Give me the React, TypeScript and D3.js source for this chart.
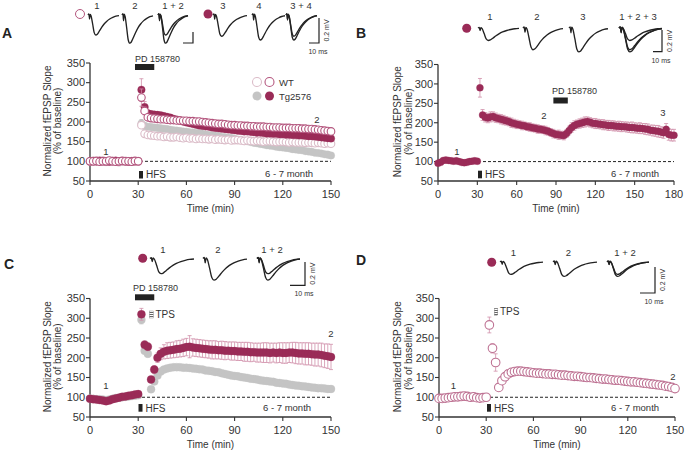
import React from 'react';
import * as d3 from 'd3';

const FONT = "'Liberation Sans', Arial, Helvetica, sans-serif";
const INK = '#333';
const MAROON = '#9a2b57';
const PINK_ERR = '#d08fa9';
const GRAY = '#c4c4c4';
const GRAY_ERR = '#b3b3b3';
const OPEN_DARK = '#b4567e';
const OPEN_LIGHT = '#dbbcc8';
const OPEN_D = '#be7293';

// ---------------- data ----------------
const yTicks = [50, 100, 150, 200, 250, 300, 350];
const xTicks150 = [0, 30, 60, 90, 120, 150];
const xTicks180 = [0, 30, 60, 90, 120, 150, 180];
const times150 = d3.range(0, 151, 2);
const times180 = d3.range(0, 181, 2);

// Panel A
const wtA = [100, 101, 99, 100, 102, 100, 99, 101, 100, 98, 100, 101, 100, 99, 100, 100,
  192, 170, 167, 166, 165, 164, 164, 162, 163, 161,
  161, 162, 160, 159, 160, 158, 159, 157, 158, 157,
  157, 156, 157, 155, 156, 155, 154, 155, 153, 154,
  154, 153, 152, 153, 152, 151, 152, 151, 150, 151,
  151, 150, 149, 150, 150, 149, 148, 149, 148, 148,
  148, 147, 148, 147, 146, 147, 146, 145, 146, 145];
const wtPdA = [100, 100, 101, 99, 100, 100, 102, 100, 99, 100, 101, 100, 100, 99, 101, 100,
  262, 228, 212, 210, 209, 208, 207, 207, 206, 205,
  205, 204, 204, 203, 203, 202, 202, 201, 201, 200,
  199, 198, 197, 196, 195, 195, 194, 193, 192, 192,
  191, 191, 190, 190, 189, 189, 188, 188, 188, 187,
  187, 186, 186, 186, 185, 185, 185, 184, 184, 184,
  183, 183, 182, 182, 181, 180, 179, 178, 177, 176];
const tgA = [100, 99, 100, 101, 100, 98, 100, 101, 100, 99, 100, 100, 101, 99, 100, 100,
  196, 190, 188, 187, 186, 185, 184, 183, 182, 180,
  179, 178, 177, 176, 175, 174, 173, 172, 171, 170,
  168, 167, 166, 165, 164, 162, 161, 160, 159, 157,
  155, 154, 152, 151, 149, 147, 146, 144, 143, 141,
  140, 139, 137, 136, 135, 134, 133, 131, 130, 129,
  128, 126, 125, 124, 122, 121, 120, 118, 117, 115];
const tgPdA = [100, 101, 100, 102, 101, 100, 99, 101, 102, 100, 101, 100, 99, 101, 100, 101,
  282, 238, 222, 220, 219, 218, 217, 215, 213, 211,
  208, 206, 203, 201, 199, 197, 195, 193, 191, 190,
  189, 188, 186, 185, 184, 183, 182, 181, 180, 179,
  178, 177, 176, 176, 175, 174, 173, 173, 172, 171,
  171, 170, 170, 169, 169, 168, 168, 167, 167, 166,
  166, 165, 164, 164, 163, 162, 161, 160, 159, 158];
const errTgPdA: [number, number][] = [[32, 28], [34, 14], [36, 8]];
const errWtPdA: [number, number][] = [[32, 22], [34, 10], [36, 6]];
const errTgA: [number, number][] = [[32, 10], [34, 8]];

// Panel B
const tgPdB = [96, 98, 103, 104, 103, 102, 101, 102, 100, 98, 97, 98, 100, 101, 102, 101,
  290, 220, 214, 212, 215, 216, 213, 211, 209, 207,
  205, 203, 200, 198, 196, 195, 193, 192, 190, 189,
  187, 186, 184, 183, 182, 180, 178, 175, 172, 170,
  169, 168, 167, 172, 180, 188, 193, 196, 198, 200,
  202, 203, 201, 199, 198, 197, 196, 195, 194, 193,
  193, 192, 191, 191, 190, 190, 189, 188, 188, 187,
  186, 186, 185, 184, 183, 181, 180, 179, 178, 176,
  174, 183, 170, 168, 168];
const errTgPdB = [3, 3, 4, 3, 3, 3, 4, 3, 3, 3, 3, 3, 4, 3, 3, 3,
  24, 14, 12, 12, 13, 12, 12, 11, 12, 12,
  11, 11, 12, 11, 11, 10, 11, 10, 10, 11,
  10, 10, 11, 10, 10, 11, 10, 10, 11, 10,
  12, 10, 11, 10, 11, 12, 12, 11, 12, 12,
  13, 12, 12, 12, 13, 12, 12, 13, 12, 13,
  12, 13, 12, 13, 13, 12, 13, 13, 14, 13,
  13, 14, 13, 14, 14, 13, 14, 14, 15, 14,
  14, 15, 15, 15, 15];

// Panel C
const tgC = [97, 96, 95, 95, 94, 93, 94, 96, 98, 99, 100, 101, 102, 103, 104, 105,
  296, 218, 210, 120, 140, 155, 165, 170, 173, 175,
  176, 176, 176, 175, 175, 174, 173, 172, 171, 170,
  168, 167, 166, 164, 163, 161, 159, 157, 155, 154,
  153, 151, 150, 149, 147, 146, 145, 143, 142, 141,
  140, 139, 137, 136, 135, 134, 132, 131, 130, 129,
  128, 127, 126, 125, 124, 123, 123, 122, 121, 121];
const tgPdC = [96, 95, 94, 93, 92, 90, 92, 95, 97, 99, 101, 102, 104, 105, 107, 108,
  310, 233, 228, 145, 170, 200, 210, 215, 218, 219,
  220, 222, 223, 225, 227, 228, 226, 225, 224, 223,
  222, 221, 220, 220, 219, 219, 218, 218, 217, 217,
  216, 216, 215, 215, 214, 214, 213, 213, 213, 213,
  212, 213, 212, 213, 212, 212, 213, 213, 212, 211,
  211, 210, 210, 209, 208, 208, 207, 205, 204, 202];
const errTgPdC = [4, 4, 4, 5, 5, 5, 4, 4, 4, 4, 4, 4, 4, 4, 4, 4,
  15, 10, 10, 8, 10, 12, 15, 18, 20, 20,
  20, 21, 21, 22, 22, 28, 22, 22, 22, 22,
  22, 22, 23, 23, 22, 23, 23, 22, 23, 23,
  23, 23, 24, 24, 24, 23, 24, 24, 25, 25,
  25, 24, 25, 25, 26, 26, 25, 26, 27, 27,
  27, 28, 28, 28, 29, 29, 30, 30, 31, 32];
const errTgC: [number, number][] = [[32, 10], [34, 8], [36, 8]];

// Panel D
const wtD = [97, 97, 98, 99, 100, 101, 101, 102, 103, 102, 100, 101, 99, 98, 99, 100,
  283, 224, 188, 125, 142, 152, 159, 163, 165, 166,
  166, 165, 164, 163, 162, 161, 161, 160, 159, 159,
  158, 158, 157, 156, 156, 155, 154, 153, 153, 152,
  151, 150, 150, 149, 148, 147, 146, 146, 145, 144,
  143, 143, 142, 141, 140, 139, 139, 138, 137, 136,
  135, 134, 133, 132, 131, 130, 128, 127, 125, 122];
const errWtD: [number, number][] = [[32, 20], [34, 12], [36, 22], [44, 6], [46, 8], [48, 8], [50, 8], [52, 7]];

// Example traces: peak amplitudes (mV)
const traceAmpA = [0.16, 0.225, 0.17, 0.2];
const traceAmpB = [0.115, 0.2, 0.22];
const traceAmpC = [0.13, 0.185];
const traceAmpD = [0.095, 0.11];
// normalized fEPSP waveform (time fraction, fraction of peak)
const waveform: [number, number][] = [
  [0, 0], [0.03, 0.05], [0.05, -0.2], [0.07, 0.03], [0.1, -0.05], [0.15, -0.45], [0.2, -0.88],
  [0.25, -1], [0.3, -0.96], [0.36, -0.82], [0.44, -0.62], [0.52, -0.45], [0.6, -0.32],
  [0.7, -0.2], [0.8, -0.12], [0.9, -0.06], [1, -0.03]];

// ---------------- helpers ----------------
const lineGen = d3.line<[number, number]>().curve(d3.curveMonotoneX);

function Trace({ x0, y0, w, amps, mv }: { x0: number; y0: number; w: number; amps: number[]; mv: d3.ScaleLinear<number, number> }) {
  return (
    <g>
      {amps.map((a, i) => (
        <path key={i} d={lineGen(waveform.map(([u, v]) => [x0 + u * w, y0 - v * mv(a)])) || ''}
          fill="none" stroke="#222" strokeWidth={1.35} />
      ))}
    </g>
  );
}

function ScaleBar({ x, yTop, yBot, xLeft, labels }: { x: number; yTop: number; yBot: number; xLeft: number; labels: boolean }) {
  return (
    <g>
      <path d={`M${x},${yTop}V${yBot}H${xLeft}`} fill="none" stroke="#222" strokeWidth={1.2} />
      {labels && (
        <>
          <text transform={`translate(${x + 10},${(yTop + yBot) / 2}) rotate(-90)`} textAnchor="middle" fontSize={7} fill={INK}>0.2 mV</text>
          <text x={x - 1} y={yBot + 11} textAnchor="middle" fontSize={7} fill={INK}>10 ms</text>
        </>
      )}
    </g>
  );
}

type Sc = d3.ScaleLinear<number, number>;

function Series({ times, values, x, y, color, open, r, err, errColor, sw }: {
  times: number[]; values: number[]; x: Sc; y: Sc; color: string; open: boolean; r: number;
  err?: number[]; errColor?: string; sw?: number;
}) {
  return (
    <g>
      {err && values.map((v, i) => err[i] > 0 ? (
        <g key={'e' + i} stroke={errColor} strokeWidth={0.8}>
          <line x1={x(times[i])} x2={x(times[i])} y1={y(v - err[i])} y2={y(v + err[i])} />
          <line x1={x(times[i]) - 2} x2={x(times[i]) + 2} y1={y(v + err[i])} y2={y(v + err[i])} />
          <line x1={x(times[i]) - 2} x2={x(times[i]) + 2} y1={y(v - err[i])} y2={y(v - err[i])} />
        </g>
      ) : null)}
      {values.map((v, i) => (
        <circle key={i} cx={x(times[i])} cy={y(v)} r={r} fill={open ? '#fff' : color}
          stroke={color} strokeWidth={open ? (sw ?? 1.1) : 0.3} />
      ))}
    </g>
  );
}

function sparseErr(times: number[], pts: [number, number][]) {
  const m = new Map(pts);
  return times.map((t) => m.get(t) ?? 0);
}

function Axes({ x, y, xTicks, t1, t2 }: { x: Sc; y: Sc; xTicks: number[]; t1: number; t2: number }) {
  const [x0, x1] = x.range();
  const yb = y(50);
  const yt = y(350);
  const cy = (yb + yt) / 2 - 1;
  return (
    <g>
      <line x1={x0} x2={x0} y1={yt} y2={yb} stroke={INK} strokeWidth={1.3} />
      {yTicks.map((v) => (
        <g key={v}>
          <line x1={x0 - 4} x2={x0} y1={y(v)} y2={y(v)} stroke={INK} strokeWidth={1.1} />
          <text x={x0 - 5} y={y(v) + 3.8} textAnchor="end" fontSize={11} fill={INK}>{v}</text>
        </g>
      ))}
      <line x1={x0} x2={x1} y1={yb} y2={yb} stroke={INK} strokeWidth={1.3} />
      {xTicks.map((t) => (
        <g key={t}>
          <line x1={x(t)} x2={x(t)} y1={yb} y2={yb + 4} stroke={INK} strokeWidth={1.1} />
          <text x={x(t)} y={yb + 17} textAnchor="middle" fontSize={11} fill={INK}>{t}</text>
        </g>
      ))}
      <text x={(x0 + x1) / 2} y={yb + 31} textAnchor="middle" fontSize={10} fill={INK}>Time (min)</text>
      <text transform={`translate(${t1},${cy}) rotate(-90)`} textAnchor="middle" fontSize={10} fill={INK}>Normalized fEPSP Slope</text>
      <text transform={`translate(${t2},${cy}) rotate(-90)`} textAnchor="middle" fontSize={10} fill={INK}>(% of baseline)</text>
    </g>
  );
}

function Dashed({ x, y, from }: { x: Sc; y: Sc; from: number }) {
  const [, x1] = x.range();
  return <line x1={from} x2={x1} y1={y(100)} y2={y(100)} stroke="#222" strokeWidth={1} strokeDasharray="3,2" />;
}

function Hfs({ x, y, yTop, yBot }: { x: number; y: number; yTop: number; yBot: number }) {
  return (
    <g>
      <rect x={x} y={yTop} width={4} height={yBot - yTop} fill="#222" />
      <text x={x + 7} y={y} fontSize={10} fill={INK}>HFS</text>
    </g>
  );
}

const T = (props: any) => <text fontSize={9.5} fill={INK} {...props} />;

export default function App() {
  const xA = d3.scaleLinear().domain([0, 150]).range([90, 331]);
  const yA = d3.scaleLinear().domain([50, 350]).range([181, 63]);
  const xB = d3.scaleLinear().domain([0, 180]).range([438, 674]);
  const yB = d3.scaleLinear().domain([50, 350]).range([181, 64.5]);
  const xC = d3.scaleLinear().domain([0, 150]).range([90, 331]);
  const yC = d3.scaleLinear().domain([50, 350]).range([417, 298.5]);
  const xD = d3.scaleLinear().domain([0, 150]).range([439, 675]);
  const yD = d3.scaleLinear().domain([50, 350]).range([417, 298.5]);

  const mvA = d3.scaleLinear().domain([0, 0.2]).range([0, 25]);
  const mvB = d3.scaleLinear().domain([0, 0.2]).range([0, 21.7]);
  const mvC = d3.scaleLinear().domain([0, 0.2]).range([0, 23.3]);
  const mvD = d3.scaleLinear().domain([0, 0.2]).range([0, 26.6]);

  return (
    <svg width={685} height={451} style={{ position: 'absolute', left: 0, top: 0, background: '#fff' }} fontFamily={FONT}>
      <defs>
        <pattern id="hatch" width="4" height="2" patternUnits="userSpaceOnUse">
          <rect width="4" height="2" fill="#fff" />
          <rect width="4" height="1" fill="#666" />
        </pattern>
      </defs>

      {/* ================= Panel A ================= */}
      <text x={2} y={37.5} fontSize={14} fontWeight="bold" fill="#222">A</text>
      <circle cx={80} cy={14} r={4.5} fill="#fff" stroke={OPEN_DARK} strokeWidth={1} />
      <T x={97} y={8.5} textAnchor="middle">1</T>
      <T x={135} y={8.5} textAnchor="middle">2</T>
      <T x={173} y={8.5} textAnchor="middle">1 + 2</T>
      <Trace x0={88} y0={15} w={31} amps={[traceAmpA[0]]} mv={mvA} />
      <Trace x0={122} y0={15} w={31} amps={[traceAmpA[1]]} mv={mvA} />
      <Trace x0={158} y0={15} w={30} amps={[traceAmpA[0], traceAmpA[1]]} mv={mvA} />
      <ScaleBar x={193} yTop={32} yBot={43} xLeft={183} labels={false} />
      <circle cx={208} cy={14} r={4.5} fill={MAROON} />
      <T x={223} y={8.5} textAnchor="middle">3</T>
      <T x={259} y={8.5} textAnchor="middle">4</T>
      <T x={301} y={8.5} textAnchor="middle">3 + 4</T>
      <Trace x0={213} y0={15} w={34} amps={[traceAmpA[2]]} mv={mvA} />
      <Trace x0={252} y0={15} w={33} amps={[traceAmpA[3]]} mv={mvA} />
      <Trace x0={286} y0={15} w={31} amps={[traceAmpA[2], traceAmpA[3]]} mv={mvA} />
      <ScaleBar x={319} yTop={18} yBot={43} xLeft={309} labels={true} />

      <T x={135} y={62} fontSize={9}>PD 158780</T>
      <rect x={xA(28)} y={64} width={xA(40) - xA(28)} height={6} fill="#222" />

      <Axes x={xA} y={yA} xTicks={xTicks150} t1={50.5} t2={61} />
      <Dashed x={xA} y={yA} from={140} />
      <Series times={times150} values={tgA} x={xA} y={yA} color={GRAY} open={false} r={3.8} err={sparseErr(times150, errTgA)} errColor={GRAY_ERR} />
      <Series times={times150} values={wtA} x={xA} y={yA} color={OPEN_LIGHT} open={true} r={3.8} />
      <Series times={times150} values={tgPdA} x={xA} y={yA} color={MAROON} open={false} r={3.8} err={sparseErr(times150, errTgPdA)} errColor={PINK_ERR} />
      <Series times={times150} values={wtPdA} x={xA} y={yA} color={OPEN_DARK} open={true} r={3.8} err={sparseErr(times150, errWtPdA)} errColor={PINK_ERR} />
      <Hfs x={139} y={178} yTop={171} yBot={178.5} />
      <T x={265} y={177}>6 - 7 month</T>
      <T x={106} y={155} textAnchor="middle">1</T>
      <T x={317} y={123} textAnchor="middle">2</T>
      {/* legend */}
      <circle cx={257} cy={82} r={4.5} fill="#fff" stroke={OPEN_LIGHT} strokeWidth={1.1} />
      <circle cx={269.5} cy={82} r={4.5} fill="#fff" stroke={OPEN_DARK} strokeWidth={1.1} />
      <circle cx={257} cy={96} r={4.5} fill={GRAY} />
      <circle cx={269.5} cy={96} r={4.5} fill={MAROON} />
      <T x={279} y={85.5}>WT</T>
      <T x={279} y={99.5}>Tg2576</T>

      {/* ================= Panel B ================= */}
      <text x={356} y={37.5} fontSize={14} fontWeight="bold" fill="#222">B</text>
      <circle cx={466.7} cy={28.3} r={4.5} fill={MAROON} />
      <T x={490} y={19.5} textAnchor="middle">1</T>
      <T x={537} y={19.5} textAnchor="middle">2</T>
      <T x={583} y={19.5} textAnchor="middle">3</T>
      <T x={638} y={19.5} textAnchor="middle">1 + 2 + 3</T>
      <Trace x0={478} y0={28} w={41} amps={[traceAmpB[0]]} mv={mvB} />
      <Trace x0={523} y0={28} w={40} amps={[traceAmpB[1]]} mv={mvB} />
      <Trace x0={569} y0={28} w={39} amps={[traceAmpB[2]]} mv={mvB} />
      <Trace x0={619} y0={28} w={43} amps={traceAmpB} mv={mvB} />
      <ScaleBar x={662} yTop={30} yBot={51.7} xLeft={653} labels={true} />

      <Axes x={xB} y={yB} xTicks={xTicks180} t1={401} t2={411.5} />
      <T x={552} y={93.5} fontSize={9}>PD 158780</T>
      <rect x={xB(88)} y={97.5} width={xB(99) - xB(88)} height={6} fill="#222" />
      <Dashed x={xB} y={yB} from={483} />
      <Series times={times180} values={tgPdB} x={xB} y={yB} color={MAROON} open={false} r={3.5} err={errTgPdB} errColor={PINK_ERR} />
      <Hfs x={478} y={177.7} yTop={170.7} yBot={178.3} />
      <T x={611} y={177}>6 - 7 month</T>
      <T x={457} y={155} textAnchor="middle">1</T>
      <T x={544} y={118.5} textAnchor="middle">2</T>
      <T x={663} y={116} textAnchor="middle">3</T>

      {/* ================= Panel C ================= */}
      <text x={4} y={268.5} fontSize={14} fontWeight="bold" fill="#222">C</text>
      <circle cx={142.7} cy={258.3} r={4.5} fill={MAROON} />
      <T x={163} y={253} textAnchor="middle">1</T>
      <T x={218} y={253} textAnchor="middle">2</T>
      <T x={272} y={253} textAnchor="middle">1 + 2</T>
      <Trace x0={150} y0={258.5} w={44} amps={[traceAmpC[0]]} mv={mvC} />
      <Trace x0={203} y0={258.5} w={44} amps={[traceAmpC[1]]} mv={mvC} />
      <Trace x0={257} y0={258.5} w={43} amps={traceAmpC} mv={mvC} />
      <ScaleBar x={305} yTop={262} yBot={285.3} xLeft={290} labels={true} />

      <T x={133} y={291} fontSize={9}>PD 158780</T>
      <rect x={xC(28)} y={294.3} width={xC(40) - xC(28)} height={6} fill="#222" />
      <Axes x={xC} y={yC} xTicks={xTicks150} t1={50.5} t2={61} />
      <Dashed x={xC} y={yC} from={142} />
      <Series times={times150} values={tgC} x={xC} y={yC} color={GRAY} open={false} r={4} err={sparseErr(times150, errTgC)} errColor={GRAY_ERR} />
      <Series times={times150} values={tgPdC} x={xC} y={yC} color={MAROON} open={false} r={4} err={errTgPdC} errColor={PINK_ERR} />
      <rect x={149.5} y={311} width={3.8} height={7} fill="url(#hatch)" stroke="#777" strokeWidth={0.4} />
      <T x={155.5} y={318} fontSize={10}>TPS</T>
      <Hfs x={138.5} y={411.5} yTop={404} yBot={411.7} />
      <T x={263} y={411}>6 - 7 month</T>
      <T x={106} y={388.5} textAnchor="middle">1</T>
      <T x={331} y={337} textAnchor="middle">2</T>

      {/* ================= Panel D ================= */}
      <text x={356} y={265} fontSize={14} fontWeight="bold" fill="#222">D</text>
      <circle cx={491.7} cy={262.3} r={4.5} fill={MAROON} />
      <T x={513.3} y={256} textAnchor="middle">1</T>
      <T x={568.3} y={256} textAnchor="middle">2</T>
      <T x={625} y={256} textAnchor="middle">1 + 2</T>
      <Trace x0={500} y0={261.7} w={43} amps={[traceAmpD[0]]} mv={mvD} />
      <Trace x0={553} y0={261.7} w={44} amps={[traceAmpD[1]]} mv={mvD} />
      <Trace x0={607} y0={261.7} w={42} amps={traceAmpD} mv={mvD} />
      <ScaleBar x={655} yTop={267} yBot={293} xLeft={640} labels={true} />

      <Axes x={xD} y={yD} xTicks={xTicks150} t1={401} t2={411.5} />
      <Dashed x={xD} y={yD} from={490} />
      <Series times={times150} values={wtD} x={xD} y={yD} color={OPEN_D} open={true} r={4.3} err={sparseErr(times150, errWtD)} errColor={PINK_ERR} />
      <rect x={494.3} y={308.3} width={3.5} height={7} fill="url(#hatch)" stroke="#777" strokeWidth={0.4} />
      <T x={500} y={315} fontSize={10}>TPS</T>
      <Hfs x={487} y={411.5} yTop={404} yBot={411.7} />
      <T x={611} y={411}>6 - 7 month</T>
      <T x={453.3} y={388.5} textAnchor="middle">1</T>
      <T x={673} y={380} textAnchor="middle">2</T>
    </svg>
  );
}
